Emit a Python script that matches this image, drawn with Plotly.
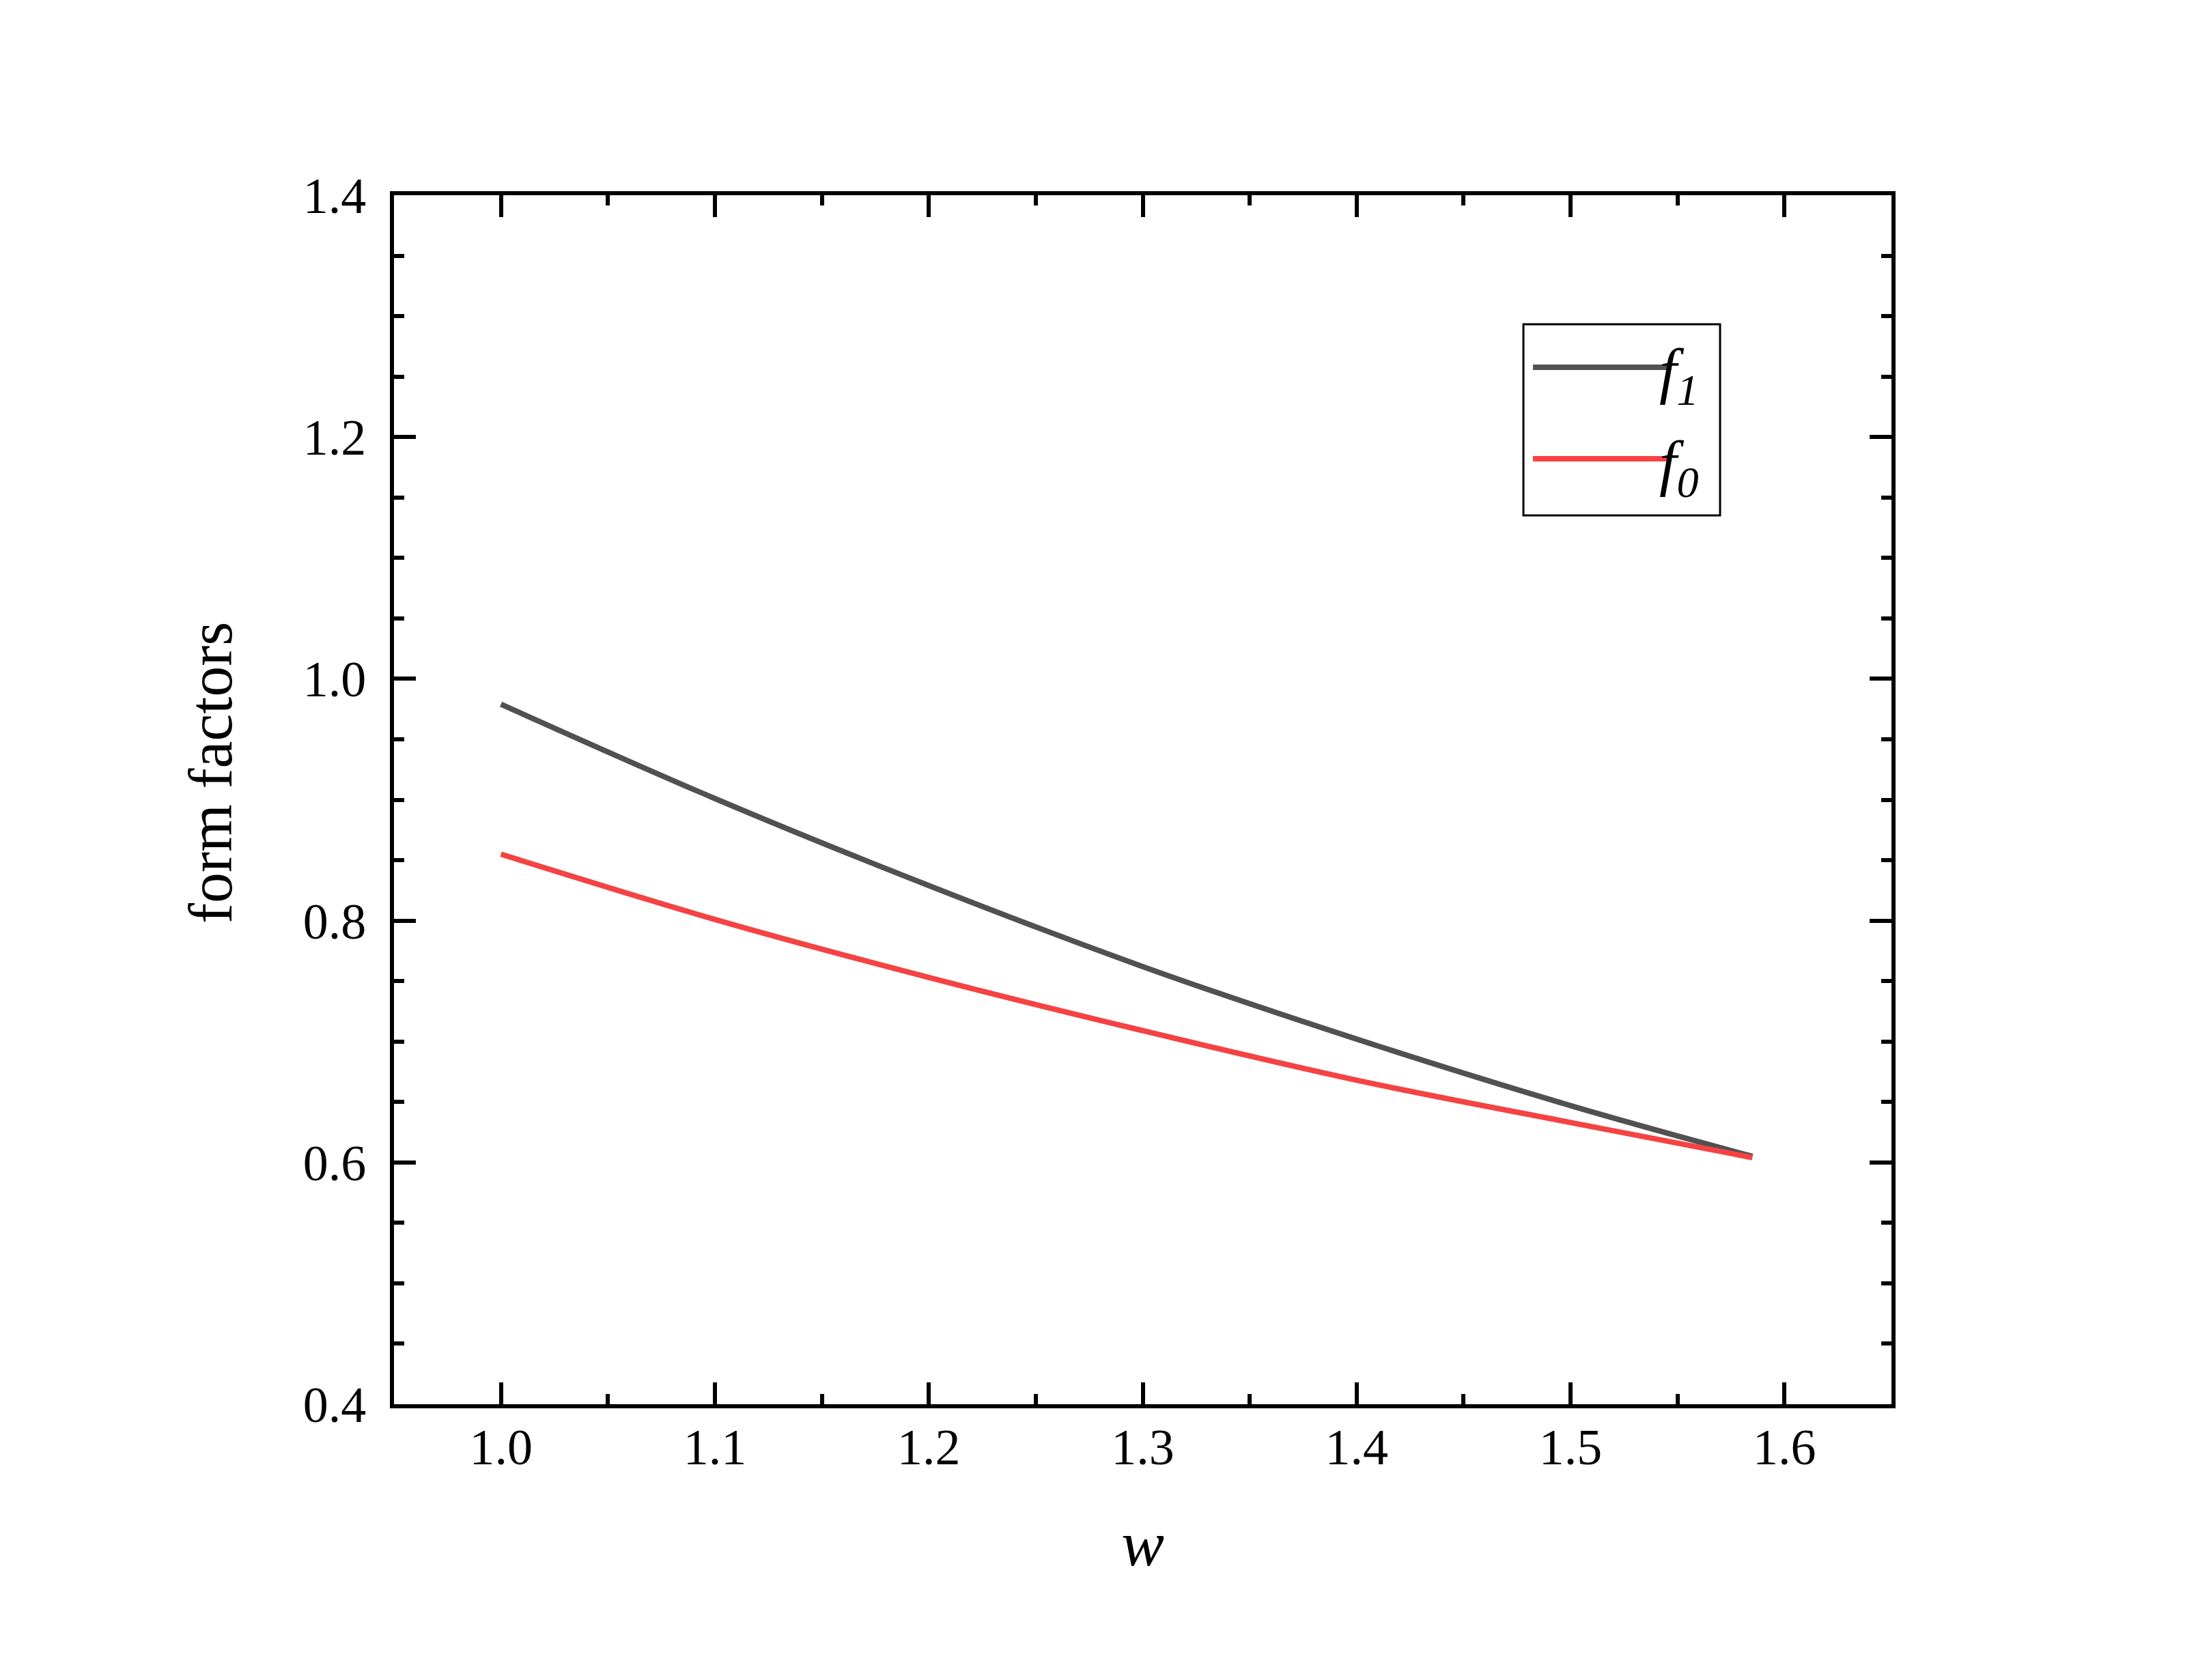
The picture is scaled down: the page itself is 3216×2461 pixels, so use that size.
import plotly.graph_objects as go

# ---- data ----
w = [1.0, 1.1, 1.2, 1.3, 1.4, 1.5, 1.585]
f1 = [0.979, 0.901, 0.829, 0.762, 0.702, 0.647, 0.605]
f0 = [0.855, 0.801, 0.753, 0.709, 0.668, 0.633, 0.604]
series_names = ["<i>f</i><sub><i>1</i></sub>", "<i>f</i><sub><i>0</i></sub>"]
series_colors = ["#515151", "#F54343"]
x_title = "<i>w</i>"
y_title = "form factors"

FONT = "Liberation Serif, Tinos, Times New Roman, serif"
W, H = 3216, 2461
L, R, T, B = 577, 446, 286, 404

fig = go.Figure()
for ys, nm, col in zip([f1, f0], series_names, series_colors):
    fig.add_trace(go.Scatter(x=w, y=ys, mode="lines", name=nm, showlegend=False,
                             line=dict(color=col, width=8, shape="spline")))

axis_common = dict(
    showline=True, linewidth=6, linecolor="black", mirror="ticks",
    ticks="inside", ticklen=32, tickwidth=6, tickcolor="black",
    showgrid=False, zeroline=False,
    tickfont=dict(family=FONT, size=74, color="black"),
)
fig.update_xaxes(**axis_common, range=[0.95, 1.65], tickmode="linear", tick0=1.0, dtick=0.1,
                 tickformat=".1f", ticklabelstandoff=-7,
                 minor=dict(ticks="inside", ticklen=15, tickwidth=6, tickcolor="black",
                            tick0=0.95, dtick=0.05, showgrid=False),
                 title=dict(text=x_title, font=dict(family=FONT, size=94, color="black"), standoff=69))
fig.update_yaxes(**axis_common, range=[0.4, 1.4], tickmode="linear", tick0=0.4, dtick=0.2,
                 tickformat=".1f", ticklabelstandoff=20,
                 minor=dict(ticks="inside", ticklen=15, tickwidth=6, tickcolor="black",
                            tick0=0.4, dtick=0.05, showgrid=False))

def px(xp):
    return (xp - L) / (W - L - R)

def py(yp):
    return (H - B - yp) / (H - T - B)

# y-axis title (placed like the reference, slightly above the axis middle)
fig.add_annotation(xref="paper", yref="paper", x=px(308), y=py(1132),
                   xanchor="center", yanchor="middle", showarrow=False, textangle=-90,
                   text=y_title, font=dict(family=FONT, size=90, color="black"))

# ---- legend box drawn manually (large line samples like the reference) ----
fig.add_shape(type="rect", xref="paper", yref="paper",
              x0=px(2231), x1=px(2519), y0=py(755), y1=py(475),
              line=dict(color="black", width=3), fillcolor="white", layer="above")
for i, (nm, col) in enumerate(zip(series_names, series_colors)):
    yl = [538, 672][i]
    fig.add_shape(type="line", xref="paper", yref="paper",
                  x0=px(2245), x1=px(2448), y0=py(yl), y1=py(yl),
                  line=dict(color=col, width=8), layer="above")
    fig.add_annotation(xref="paper", yref="paper", x=px(2428), y=py(yl + 12),
                       xanchor="left", yanchor="middle", showarrow=False,
                       text=nm, font=dict(family=FONT, size=92, color="black"))

fig.update_layout(
    width=W, height=H, autosize=False,
    margin=dict(l=L, r=R, t=T, b=B, pad=0),
    paper_bgcolor="white", plot_bgcolor="white",
    font=dict(family=FONT, color="black"),
)

fig.write_html("out.html", config={"displayModeBar": False},
               post_script="document.body.style.margin='0';")
